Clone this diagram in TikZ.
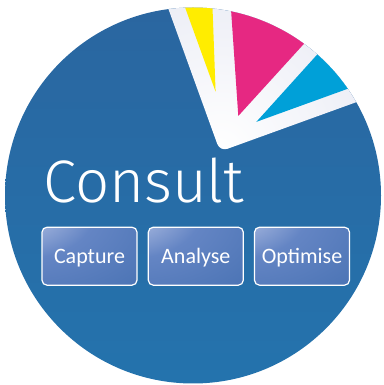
\documentclass[tikz,border=0pt]{standalone}
\usepackage{fontspec}
\setmainfont{Carlito}
\newfontfamily\consultfont{Fira Sans Light}
\usetikzlibrary{calc}

\definecolor{consultblue}{RGB}{36,115,173}
\definecolor{consultbluetop}{RGB}{42,102,160}
\definecolor{bandcol}{RGB}{204,208,230}
\definecolor{pieyellow}{RGB}{255,237,0}
\definecolor{piemagenta}{RGB}{230,40,130}
\definecolor{piecyan}{RGB}{0,160,216}
\definecolor{btnhi}{RGB}{240,242,250}
\definecolor{btnlight}{RGB}{190,201,232}
\definecolor{btnmid}{RGB}{100,133,196}
\definecolor{btnlo}{RGB}{58,104,170}

\pgfdeclareradialshading{btnshade}{\pgfpoint{-48bp}{48bp}}{color(0bp)=(btnhi); color(10bp)=(btnlight); color(38bp)=(btnmid); color(95bp)=(btnlo); color(150bp)=(btnlo)}

\tikzset{
  button/.style={shade, shading=btnshade, draw=white, line width=1.2pt, rounded corners=5pt,
    minimum width=95pt, minimum height=58pt, text=white,
    font=\fontsize{22}{22}\selectfont, text height=14pt, text depth=0pt}
}

\begin{document}
\begin{tikzpicture}[x=1pt,y=1pt]
  \useasboundingbox (0,0) rectangle (383,385);
  \shade[top color=consultbluetop, bottom color=consultblue] (193,189.5) circle (188pt);
  \begin{scope}
    \clip (193,189.5) circle (188pt);
    \begin{scope}[shift={(220,233.5)}, rotate=19.9]
      \begin{scope}
        \clip[rounded corners=8pt] (0,0) -- (0,400) -- (400,400) -- (400,0) -- cycle;
        \shade[inner color=white, outer color=bandcol] (0,0) circle (380pt);
      \end{scope}
      \fill[pieyellow] (16.2,57.7) -- +(90:330) -- +(72.2:330) -- cycle;
      \fill[piemagenta] (29.3,27.2) -- +(74:330) -- +(27.8:330) -- cycle;
      \fill[piecyan] (44.3,15.5) -- +(28:330) -- +(0:330) -- cycle;
    \end{scope}
  \end{scope}
  \node[anchor=base west, inner sep=0pt, text=white, font=\consultfont\fontsize{60}{60}\selectfont] (consult) at (43,182) {Consult};
  \foreach \btn/\x/\txt in {capture/89.5/Capture, analyse/195.8/Analyse, optimise/302/Optimise}
    \node[button] (\btn) at (\x,128.8) {\txt};
\end{tikzpicture}
\end{document}
